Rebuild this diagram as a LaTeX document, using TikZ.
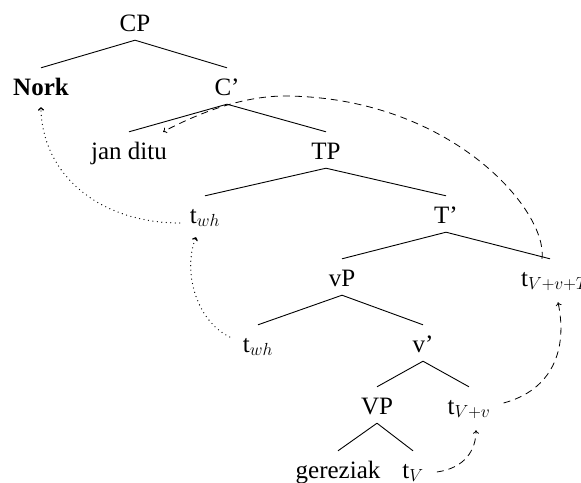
\RequirePackage{fix-cm}
\documentclass[tikz,border=0pt]{standalone}
\usepackage{fontspec}
\setmainfont{Liberation Serif}
\usetikzlibrary{arrows.meta}
\begin{document}
\begin{tikzpicture}[x=1pt,y=-1pt,
  lab/.style={anchor=base,text height=23pt,text depth=5pt,inner xsep=2pt,inner ysep=4pt,
    font=\fontsize{25}{30}\selectfont},
  edge/.style={line width=0.9pt},
  mv/.style={line width=0.8pt,-{To[length=3.5pt,width=6pt]}},
  dsh/.style={mv,dash pattern=on 7pt off 5pt},
  dtt/.style={mv,line width=1.3pt,line cap=round,dash pattern=on 0pt off 4.5pt}]
\useasboundingbox (0,0) rectangle (581,482);
\node[lab] (CP)   at (135,31) {CP};
\node[lab] (Nork) at (41,95)  {\bfseries Nork};
\node[lab] (Cb)   at (227,95) {C'};
\node[lab] (jan)  at (129,159) {jan ditu};
\node[lab] (TP)   at (326,159) {TP};
\node[lab] (twh1) at (205,223) {t$_{wh}$};
\node[lab] (Tb)   at (446,223) {T'};
\node[lab] (vP)   at (342,286) {vP};
\node[lab] (tVvT) at (555,286) {t$_{V+v+T}$};
\node[lab] (twh2) at (258,352) {t$_{wh}$};
\node[lab] (vb)   at (423,352) {v'};
\node[lab] (VP)   at (377,414) {VP};
\node[lab] (tVv)  at (469,414) {t$_{V+v}$};
\node[lab] (ger)  at (338,478) {gereziak};
\node[lab] (tV)   at (413,478) {t$_{V}$};
\draw[edge] (CP.south) -- (Nork.north);
\draw[edge] (CP.south) -- (Cb.north);
\draw[edge] (Cb.south) -- (jan.north);
\draw[edge] (Cb.south) -- (TP.north);
\draw[edge] (TP.south) -- (twh1.north);
\draw[edge] (TP.south) -- (Tb.north);
\draw[edge] (Tb.south) -- (vP.north);
\draw[edge] (Tb.south) -- ([xshift=-5pt]tVvT.north);
\draw[edge] (vP.south) -- (twh2.north);
\draw[edge] (vP.south) -- (vb.north);
\draw[edge] (vb.south) -- (VP.north);
\draw[edge] (vb.south) -- (tVv.north);
\draw[edge] (VP.south) -- (ger.north);
\draw[edge] (VP.south) -- (tV.north);
% movement arrows
\coordinate (peak) at (285,96);
\draw[dsh] ([xshift=11pt,yshift=6pt]tV.base east) .. controls (465,468) and (476,450) .. ([xshift=7pt,yshift=-7pt]tVv.south);
\draw[dsh] ([xshift=11pt,yshift=2pt]tVv.east) .. controls (552,390) and (568,350) .. ([xshift=3pt,yshift=-7pt]tVvT.south);
\draw[dsh] ([xshift=-13pt]tVvT.north) .. controls (548,210) and (450,97) .. (peak)
   .. controls (240,96) and (195,115) .. ([xshift=34pt]jan.north);
\draw[dtt] ([xshift=-11pt,yshift=6pt]twh2.west) .. controls (195,320) and (183,270) .. ([xshift=-9pt,yshift=-5pt]twh1.south);
\draw[dtt] ([xshift=-8pt]twh1.base west) .. controls (100,223) and (42,175) .. ([yshift=-3pt]Nork.south);
\end{tikzpicture}
\end{document}
